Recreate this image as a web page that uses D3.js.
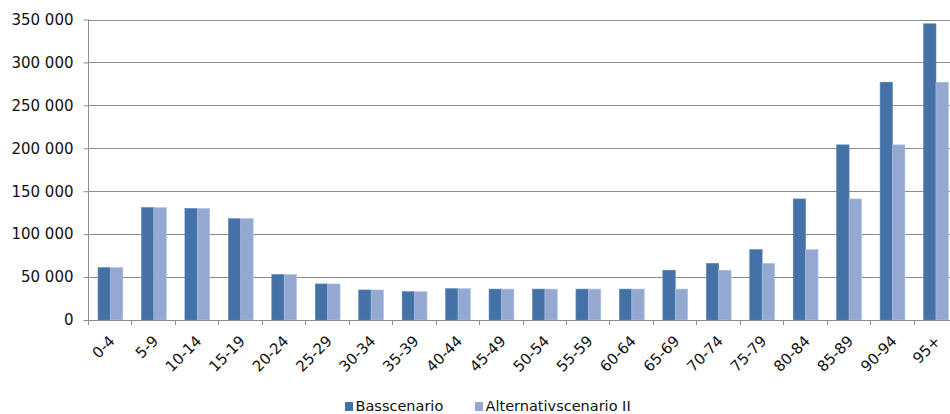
<!DOCTYPE html>
<html>
<head>
<meta charset="utf-8">
<script src="https://cdn.jsdelivr.net/npm/d3@7"></script>
<style>
  html, body { margin: 0; padding: 0; background: #fff; }
  svg { display: block; font-family: "DejaVu Sans", Verdana, sans-serif; }
</style>
</head>
<body>
<svg id="chart" width="950" height="414"></svg>
<script>
// Age groups on the category axis
const ageGroups = ["0-4","5-9","10-14","15-19","20-24","25-29","30-34","35-39","40-44",
  "45-49","50-54","55-59","60-64","65-69","70-74","75-79","80-84","85-89","90-94","95+"];

// Series values per age group
const basscenario = [61000,131000,130000,118000,53000,42000,35000,33000,36500,
  36000,36000,36000,36000,58000,66000,82000,141000,204000,277000,345000];
const alternativ2 = [61000,131000,130000,118000,53000,42000,35000,33000,36500,
  36000,36000,36000,36000,36000,58000,66000,82000,141000,204000,277000];

const seriesNames = ["Basscenario", "Alternativscenario II"];
const seriesColors = ["#4472a7", "#94a9d2"];

// Value axis ticks
const yTicks = [0, 50000, 100000, 150000, 200000, 250000, 300000, 350000];

const svg = d3.select("#chart");
const plotLeft = 88, plotTop = 19.5, plotBottom = 320;
const band = 43.45;
const plotRight = plotLeft + band * ageGroups.length;

const x = d3.scaleBand().domain(ageGroups).range([plotLeft, plotRight]).paddingInner(0).paddingOuter(0);
const y = d3.scaleLinear().domain([0, 350000]).range([plotBottom, plotTop]);
const fmt = v => d3.format(",")(v).replace(/,/g, " ");

// Horizontal gridlines
svg.append("g").selectAll("line").data(yTicks.filter(d => d > 0)).join("line")
  .attr("x1", plotLeft).attr("x2", 950)
  .attr("y1", d => Math.round(y(d)) + 0.5).attr("y2", d => Math.round(y(d)) + 0.5)
  .attr("stroke", "#8c8c8c").attr("stroke-width", 1);

// Bars
const inner = d3.scaleBand().domain([0, 1]).range([0, x.bandwidth()]).paddingInner(0).paddingOuter(0.75);
const seriesData = [basscenario, alternativ2];
seriesData.forEach((vals, si) => {
  svg.append("g").selectAll("rect").data(vals).join("rect")
    .attr("x", (d, i) => x(ageGroups[i]) + inner(si) + 0.7)
    .attr("width", inner.bandwidth())
    .attr("y", d => y(d))
    .attr("height", d => plotBottom - y(d))
    .attr("fill", seriesColors[si])
    .attr("stroke", si === 0 ? "#5b86b8" : "#b3c3e0")
    .attr("stroke-width", 0.6);
});

// Y axis
const yAxis = d3.axisLeft(y).tickValues(yTicks).tickFormat(fmt).tickSize(5).tickPadding(10);
const gy = svg.append("g").attr("transform", `translate(${plotLeft + 0.5},0)`).call(yAxis);
gy.select(".domain").attr("stroke", "#8c8c8c").attr("d", `M0,${plotTop}V${plotBottom}`);
gy.selectAll(".tick line").attr("stroke", "#8c8c8c");
gy.selectAll("text").attr("font-size", 15).attr("fill", "#111")
  .attr("font-family", "DejaVu Sans, Verdana, sans-serif");

// X axis line and tick marks at category boundaries
svg.append("line").attr("x1", plotLeft).attr("x2", 950)
  .attr("y1", plotBottom + 0.5).attr("y2", plotBottom + 0.5).attr("stroke", "#8c8c8c");
svg.append("g").selectAll("line").data(d3.range(ageGroups.length + 1)).join("line")
  .attr("x1", i => Math.round(plotLeft + i * band) + 0.5).attr("x2", i => Math.round(plotLeft + i * band) + 0.5)
  .attr("y1", plotBottom).attr("y2", plotBottom + 5).attr("stroke", "#8c8c8c");

// Rotated category labels
svg.append("g").selectAll("text").data(ageGroups).join("text")
  .attr("transform", d => `translate(${x(d) + x.bandwidth() / 2 + 6},${plotBottom + 22}) rotate(-45)`)
  .attr("text-anchor", "end")
  .attr("font-size", 15).attr("fill", "#111")
  .text(d => d);

// Legend
const legendItems = [{ name: seriesNames[0], color: seriesColors[0], x: 345 },
                     { name: seriesNames[1], color: seriesColors[1], x: 475 }];
const lg = svg.append("g");
legendItems.forEach(it => {
  lg.append("rect").attr("x", it.x).attr("y", 402).attr("width", 8).attr("height", 9).attr("fill", it.color);
  lg.append("text").attr("x", it.x + 10.5).attr("y", 410.5).attr("font-size", 14.5).attr("fill", "#111").text(it.name);
});
</script>
</body>
</html>
